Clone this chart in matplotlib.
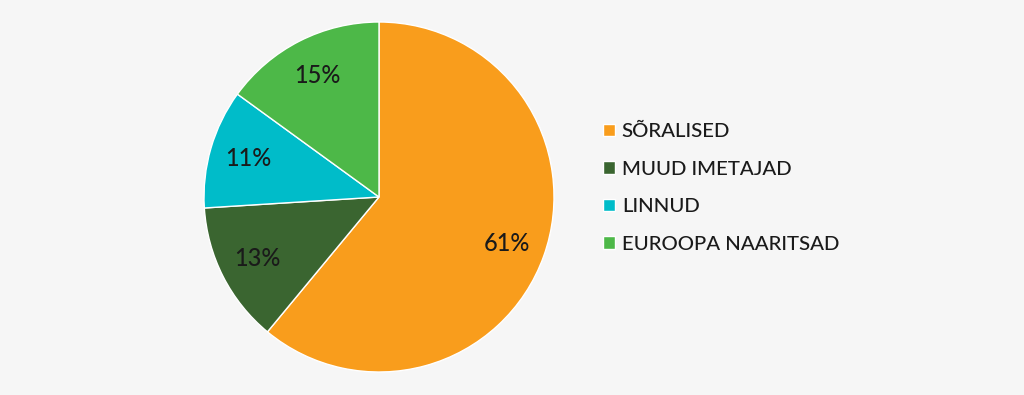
import matplotlib
matplotlib.use("Agg")
import matplotlib.pyplot as plt

labels = ["SÕRALISED", "MUUD IMETAJAD", "LINNUD", "EUROOPA NAARITSAD"]
shares = [61, 13, 11, 15]
colors = ["#F99D1C", "#3A6530", "#00BCC9", "#4DB848"]

BG = "#F6F6F6"
W, H = 1024, 395

fig = plt.figure(figsize=(W / 100, H / 100), dpi=100, facecolor=BG)
cx, cy, r = 379, 197, 175
ax = fig.add_axes([(cx - r) / W, (H - cy - r) / H, 2 * r / W, 2 * r / H])
ax.set_facecolor(BG)

wedges, _, pcts = ax.pie(
    shares, colors=colors, startangle=90, counterclock=False,
    autopct="%d%%", pctdistance=0.78,
    wedgeprops=dict(edgecolor="white", linewidth=1.0),
    textprops=dict(fontsize=17, color="#1a1a1a", weight="medium",
                   family=["Lato", "DejaVu Sans"]))
ax.set_aspect("equal")
ax.set_xlim(-1, 1)
ax.set_ylim(-1, 1)

fig.legend(wedges, labels, loc="center left",
           bbox_to_anchor=(585 / W, 1 - 188 / H), frameon=False,
           prop=dict(family=["Lato", "DejaVu Sans"], size=14.7, weight="medium"),
           handlelength=0.55, handleheight=0.55, handletextpad=0.35,
           labelspacing=1.0, labelcolor="#1a1a1a")

fig.savefig("out.png", dpi=100, facecolor=BG)
